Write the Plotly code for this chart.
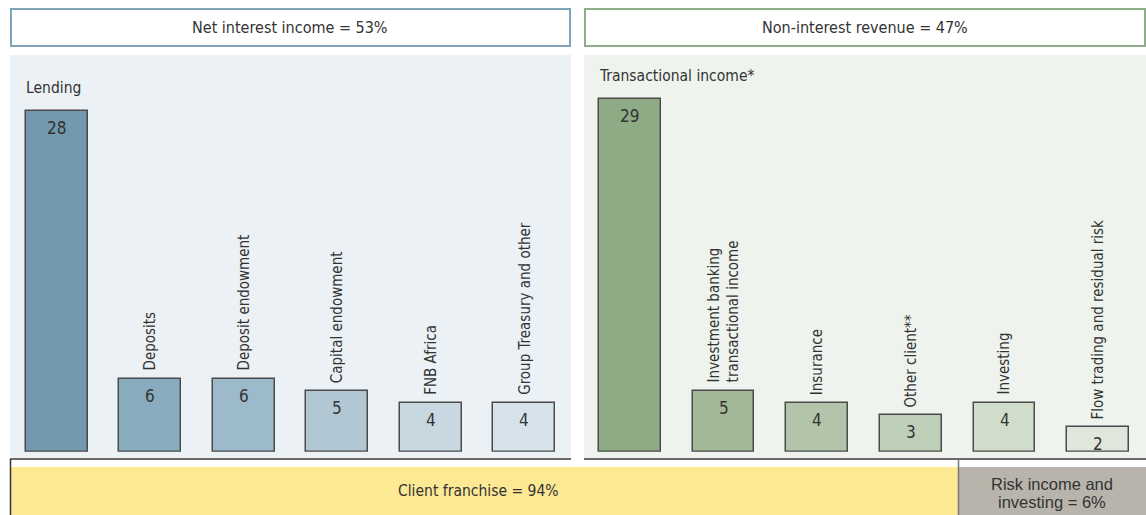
import plotly.graph_objects as go

W, H = 1146, 515

# Net interest income breakdown (%)
nii_labels = ["Lending", "Deposits", "Deposit endowment", "Capital endowment",
              "FNB Africa", "Group Treasury and other"]
nii_values = [28, 6, 6, 5, 4, 4]

# Non-interest revenue breakdown (%)
nir_labels = ["Transactional income*", "Investment banking<br>transactional income",
              "Insurance", "Other client**", "Investing", "Flow trading and residual risk"]
nir_values = [29, 5, 4, 3, 4, 2]

nii_title = "Net interest income = 53%"
nir_title = "Non-interest revenue = 47%"
client_title = "Client franchise = 94%"
risk_lines = ["Risk income and", "investing = 6%"]

nii_colors = ["#7399AF", "#88ABBD", "#9CBACA", "#B1C7D3", "#C8D8E1", "#D7E3EA"]
nir_colors = ["#8FAB86", "#A2B898", "#B2C5AA", "#BECFB7", "#D0DDCB", "#DFE6DC"]

FONT = "DejaVu Sans Condensed, Liberation Sans Narrow, Arial Narrow, sans-serif"
FONT_REG = "Liberation Sans, Arial, sans-serif"
TXT = "#333333"


def px(v):
    return v / W


def py(v):
    return 1 - v / H


fig = go.Figure()
fig.add_trace(go.Bar(x=list(range(len(nii_values))), y=nii_values,
                     marker=dict(color=nii_colors, line=dict(color="#4a4a4a", width=1.5)),
                     width=0.66, xaxis="x", yaxis="y", hoverinfo="skip"))
fig.add_trace(go.Bar(x=list(range(len(nir_values))), y=nir_values,
                     marker=dict(color=nir_colors, line=dict(color="#4a4a4a", width=1.5)),
                     width=0.66, xaxis="x2", yaxis="y2", hoverinfo="skip"))

ytop = 396.7 / 12.16
axis_common = dict(showgrid=False, zeroline=False, showticklabels=False,
                   showline=False, ticks="", fixedrange=True)
fig.update_layout(
    xaxis=dict(domain=[px(10), px(571)], range=[-0.5, 5.5], anchor="y", **axis_common),
    yaxis=dict(domain=[py(451.7), py(55)], range=[0, ytop], anchor="x", **axis_common),
    xaxis2=dict(domain=[px(583), px(1145)], range=[-0.5, 5.5], anchor="y2", **axis_common),
    yaxis2=dict(domain=[py(451.7), py(55)], range=[0, ytop], anchor="x2", **axis_common),
)

shapes = [
    # panel backgrounds
    dict(type="rect", xref="paper", yref="paper", x0=px(10), x1=px(571), y0=py(458.5), y1=py(55),
         fillcolor="#EBF1F5", line=dict(width=0), layer="below"),
    dict(type="rect", xref="paper", yref="paper", x0=px(584), x1=px(1146), y0=py(458.5), y1=py(55),
         fillcolor="#EFF3EE", line=dict(width=0), layer="below"),
    # header boxes
    dict(type="rect", xref="paper", yref="paper", x0=px(11), x1=px(570), y0=py(46), y1=py(9),
         fillcolor="white", line=dict(color="#7EA4BA", width=2)),
    dict(type="rect", xref="paper", yref="paper", x0=px(585), x1=px(1145), y0=py(46), y1=py(9),
         fillcolor="white", line=dict(color="#8DAE88", width=2)),
    # bottom bands
    dict(type="rect", xref="paper", yref="paper", x0=px(10), x1=px(958), y0=py(515), y1=py(467),
         fillcolor="#FDE994", line=dict(width=0)),
    dict(type="rect", xref="paper", yref="paper", x0=px(959), x1=px(1146), y0=py(515), y1=py(467),
         fillcolor="#B8B4AB", line=dict(width=0)),
    # separator lines
    dict(type="line", xref="paper", yref="paper", x0=px(10), x1=px(571), y0=py(459), y1=py(459),
         line=dict(color="#6b6b6b", width=2)),
    dict(type="line", xref="paper", yref="paper", x0=px(584), x1=px(1146), y0=py(459), y1=py(459),
         line=dict(color="#6b6b6b", width=2)),
    dict(type="line", xref="paper", yref="paper", x0=px(10.5), x1=px(10.5), y0=py(459), y1=py(515),
         line=dict(color="#333333", width=1.5)),
    dict(type="line", xref="paper", yref="paper", x0=px(958.5), x1=px(958.5), y0=py(459), y1=py(515),
         line=dict(color="#777777", width=1.5)),
]


def paper_text(text, x, y, size, family=FONT):
    return dict(text=text, xref="paper", yref="paper", x=px(x), y=py(y),
                xanchor="center", yanchor="middle", showarrow=False,
                font=dict(family=family, size=size, color=TXT))


ann = [
    paper_text(nii_title, 290, 27.5, 16),
    paper_text(nir_title, 865, 27.5, 16),
    paper_text(client_title, 478, 491, 15.5),
    paper_text(risk_lines[0], 1052, 483.5, 16.5, FONT_REG),
    paper_text(risk_lines[1], 1052, 501.5, 16.5, FONT_REG),
]

for axn, labels, values in (("", nii_labels, nii_values), ("2", nir_labels, nir_values)):
    xr, yr = "x" + axn, "y" + axn
    for i, (lab, v) in enumerate(zip(labels, values)):
        # value inside bar, near the top
        ann.append(dict(text=str(v), x=i, y=v, xref=xr, yref=yr, yanchor="top", yshift=-5,
                        showarrow=False, font=dict(family=FONT, size=17, color=TXT)))
        if i == 0:
            ann.append(dict(text=lab, x=i - 0.33, y=v, xref=xr, yref=yr, xanchor="left",
                            yanchor="bottom", yshift=12, xshift=-2, showarrow=False,
                            font=dict(family=FONT, size=15.5, color=TXT)))
        else:
            ann.append(dict(text=lab, x=i, y=v, xref=xr, yref=yr, textangle=-90, align="left",
                            xanchor="center", yanchor="bottom", yshift=6, showarrow=False,
                            font=dict(family=FONT, size=15, color=TXT)))

fig.update_layout(
    width=W, height=H, margin=dict(l=0, r=0, t=0, b=0),
    paper_bgcolor="white", plot_bgcolor="rgba(0,0,0,0)",
    showlegend=False, bargap=0, shapes=shapes, annotations=ann,
)

fig.write_html("out.html", config={"displayModeBar": False})
